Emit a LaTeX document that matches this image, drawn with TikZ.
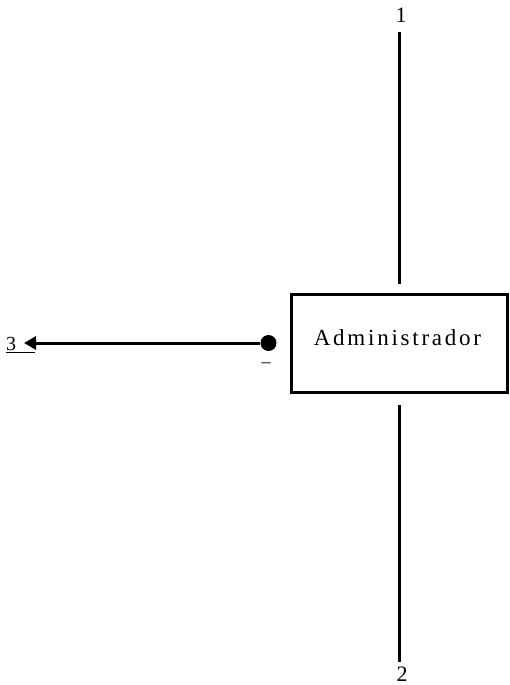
\documentclass[tikz,border=0pt]{standalone}
\usepackage{fontspec}
\setmainfont{Liberation Serif}
\usetikzlibrary{arrows.meta}

\begin{document}
\begin{tikzpicture}[x=1pt, y=-1pt, wire/.style={line width=3pt}, num/.style={font=\fontsize{22}{24}\selectfont, inner sep=0pt}]
				\useasboundingbox (0,0) rectangle (509,685);
				\node[draw, rectangle, line width=2.4pt, minimum width=216pt, minimum height=98pt, inner sep=0pt] (adm)at(399.5, 343.5) {};
				\node[font=\fontsize{23}{26}\selectfont\addfontfeatures{LetterSpace=12}, inner sep=0pt] (admtext)at(397.5, 338) {Administrador};
				\node[num] (n1)at(401, 15) {1};
				\node[num] (n2)at(402, 674) {2};
				\node[num, font=\fontsize{20}{22}\selectfont, anchor=west] (n3)at(6, 345) {\underline{3\hspace{19pt}}};
				\node[circle, fill, inner sep=0pt, minimum size=16pt] (dot)at(268.5, 343) {};
				\node[font=\fontsize{18}{20}\selectfont, inner sep=0pt] (m)at(266, 365) {–};
				\coordinate (t1)at(399, 284);
				\coordinate (t2)at(399, 405);
				\coordinate (a3)at(24, 343);
				\draw[wire] (t1 |- n1.south) ++(0,10) -- (t1);
				\draw[wire] (t2) -- ([yshift=5pt]t2 |- n2.north);
				\draw[wire, -{Triangle[length=12pt, width=13pt]}] (dot) -- (a3);
			\end{tikzpicture}
\end{document}
